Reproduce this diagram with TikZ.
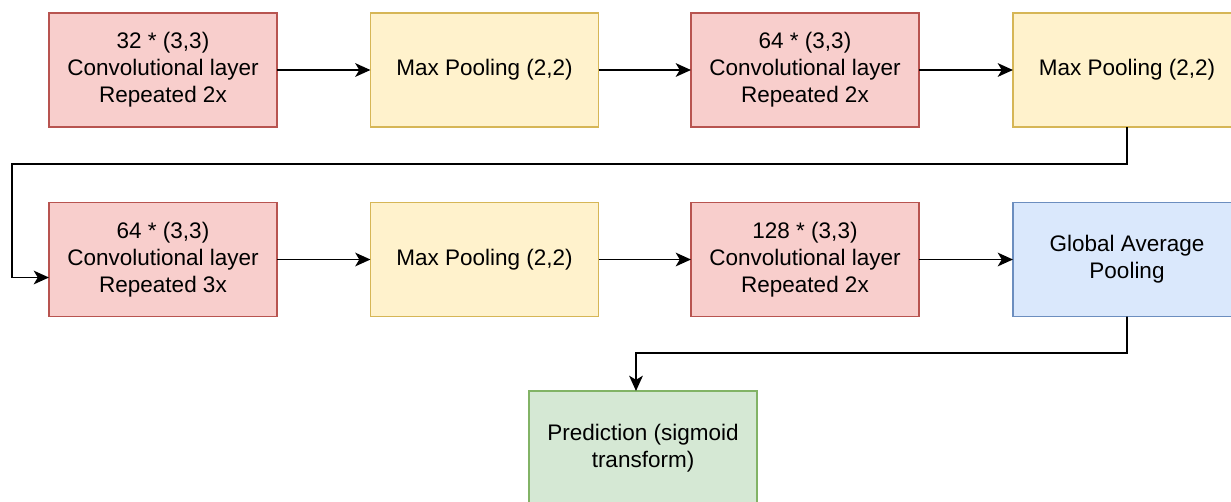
\documentclass[tikz,border=0pt]{standalone}
\usepackage{fontspec}
\setmainfont{Liberation Sans}
\usetikzlibrary{arrows.meta}
\begin{document}
\begin{tikzpicture}[x={(0.025cm,0cm)},y={(0cm,-0.025cm)},
  every node/.style={minimum width=5.7cm, minimum height=2.85cm, outer sep=0pt, align=center, line width=1.1pt, font=\fontsize{16}{19.2}\selectfont},
  conv/.style={draw={rgb,255:red,184;green,84;blue,80}, fill={rgb,255:red,248;green,206;blue,204}},
  pool/.style={draw={rgb,255:red,214;green,182;blue,86}, fill={rgb,255:red,255;green,242;blue,204}},
  gavg/.style={draw={rgb,255:red,108;green,142;blue,191}, fill={rgb,255:red,218;green,232;blue,252}},
  pred/.style={draw={rgb,255:red,130;green,179;blue,102}, fill={rgb,255:red,213;green,232;blue,212}},
  flow/.style={draw, line width=1.4pt, -{Stealth[length=0.38cm, width=0.34cm, inset=0.1cm]}}]
\clip (0,0) rectangle (1231,501);
% first row
\node[conv] (conv1) at (163,70) {32 * (3,3)\\Convolutional layer\\Repeated 2x};
\node[pool] (pool1) at (484.5,70) {Max Pooling (2,2)};
\node[conv] (conv2) at (805,70) {64 * (3,3)\\Convolutional layer\\Repeated 2x};
\node[pool] (pool2) at (1127,70) {Max Pooling (2,2)};
% second row
\node[conv] (conv3) at (163,259.5) {64 * (3,3)\\Convolutional layer\\Repeated 3x};
\node[pool] (pool3) at (484.5,259.5) {Max Pooling (2,2)};
\node[conv] (conv4) at (805,259.5) {128 * (3,3)\\Convolutional layer\\Repeated 2x};
\node[gavg] (gap) at (1127,259.5) {Global Average\\Pooling};
% output
\node[pred] (out) at (643,448) {Prediction (sigmoid\\transform)};
\coordinate (turnA) at (12,164);
\coordinate (turnB) at (636,353);
\draw[flow] (conv1) -- (pool1);
\draw[flow] (pool1) -- (conv2);
\draw[flow] (conv2) -- (pool2);
\draw[flow] (pool2.south) |- (turnA) |- ([yshift=-0.45cm]conv3.west);
\draw[flow] (conv3) -- (pool3);
\draw[flow] (pool3) -- (conv4);
\draw[flow] (conv4) -- (gap);
\draw[flow] (gap.south) |- (turnB) -- ([xshift=-0.175cm]out.north);
\end{tikzpicture}
\end{document}
